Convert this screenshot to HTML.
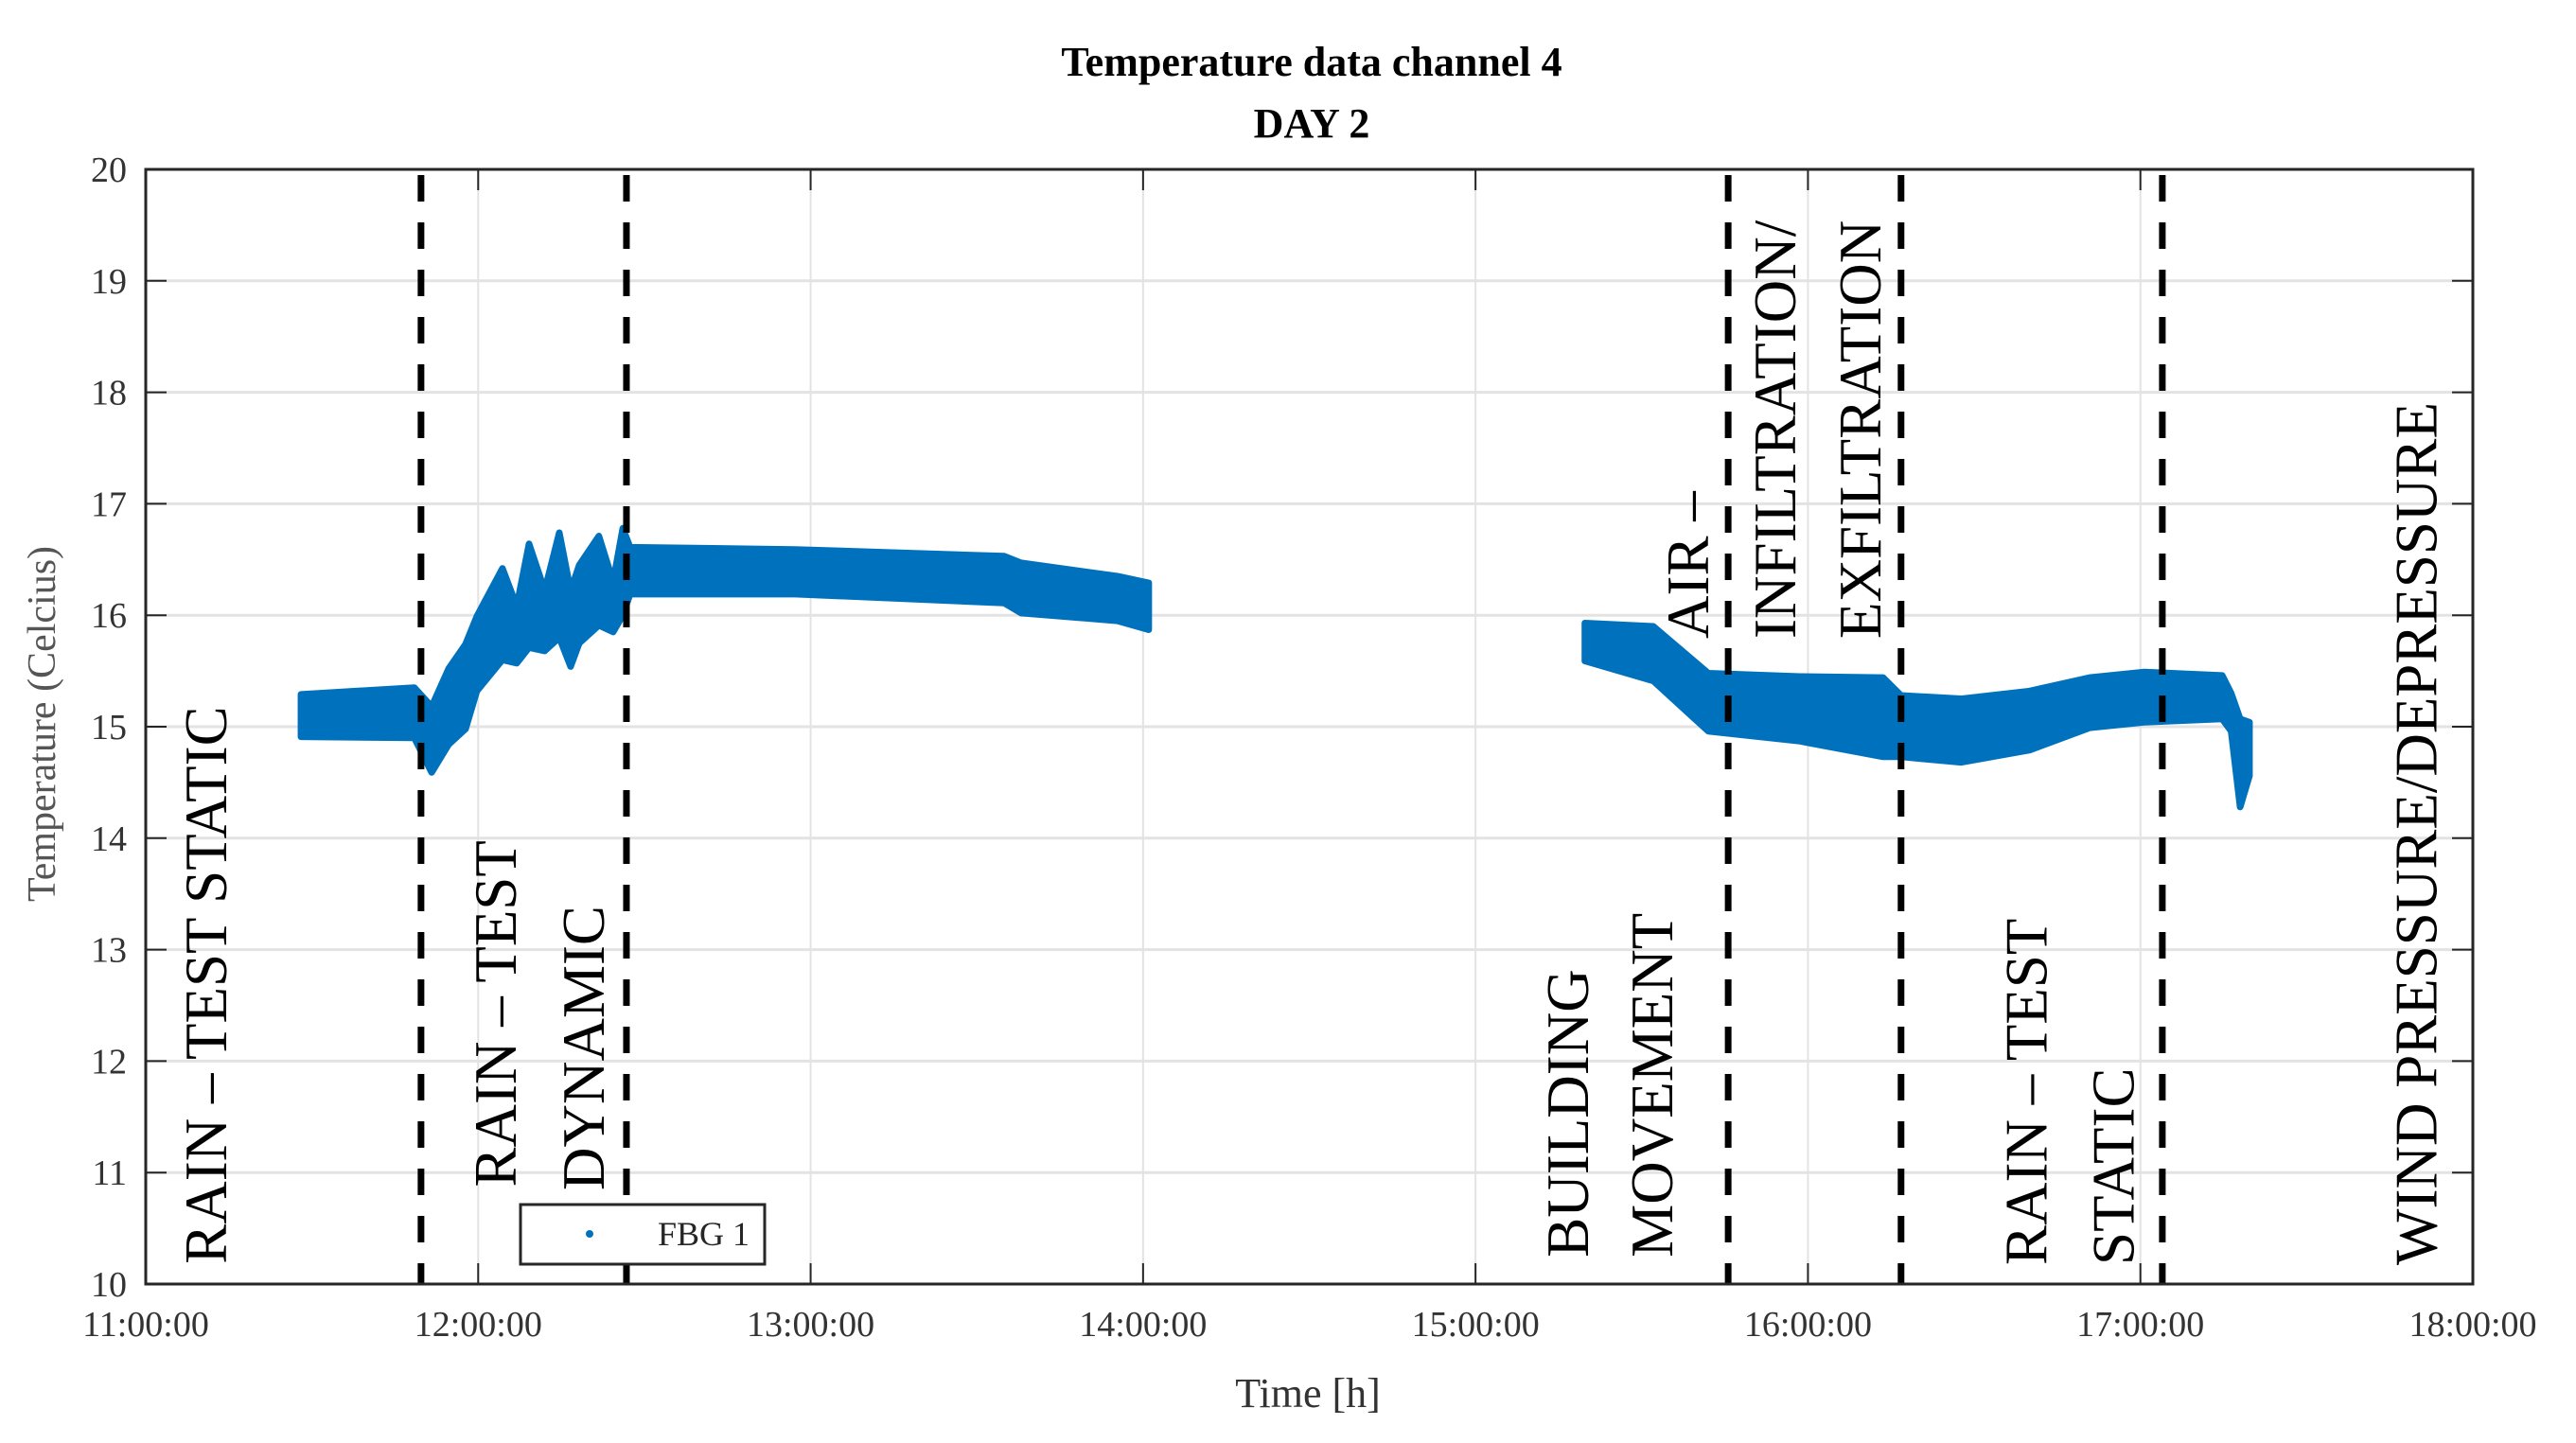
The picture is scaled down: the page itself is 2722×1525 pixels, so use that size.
<!DOCTYPE html>
<html><head><meta charset="utf-8"><style>
html,body{margin:0;padding:0;background:#fff;}
svg{display:block;font-family:"Liberation Serif",serif;}
</style></head><body>
<svg id="chart" width="2722" height="1525" viewBox="0 0 2722 1525">
<g id="grid"></g>
<g id="bands"></g>
<g id="vlines"></g>
<g id="labels"></g>
<g id="axes"></g>
<text x="1386" y="80" text-anchor="middle" font-size="44" font-weight="bold" fill="#000">Temperature data channel 4</text>
<text x="1386" y="145" text-anchor="middle" font-size="44" font-weight="bold" fill="#000">DAY 2</text>
<text x="1382" y="1487" text-anchor="middle" font-size="44" fill="#333">Time [h]</text>
<text transform="translate(58,765) rotate(-90)" text-anchor="middle" font-size="42" fill="#555">Temperature (Celcius)</text>
<g>
<rect x="550" y="1273" width="258" height="63" fill="#fff" stroke="#262626" stroke-width="3"/>
<circle cx="623" cy="1304" r="4" fill="#0072BD"/>
<text x="695" y="1316" font-size="36" fill="#262626">FBG 1</text>
</g>
</svg>
<script>
// x ticks (hours since 11:00), y ticks
const xTickHours = [0,1,2,3,4,5,6,7];
const xTickLabels = ["11:00:00","12:00:00","13:00:00","14:00:00","15:00:00","16:00:00","17:00:00","18:00:00"];
const yTicks = [10,11,12,13,14,15,16,17,18,19,20];
// segment 1 (hours since 11:00), upper & lower envelope (°C)
const seg1Hours = [0.467,0.808,0.86,0.911,0.962,0.996,1.073,1.116,1.153,1.2,1.244,1.278,1.304,1.363,1.406,1.435,1.457,1.953,2.582,2.633,2.923,3.017];
const seg1Upper = [15.29,15.35,15.18,15.52,15.74,15.99,16.42,16.08,16.64,16.22,16.74,16.22,16.45,16.71,16.3,16.78,16.61,16.59,16.53,16.47,16.35,16.29];
const seg1Lower = [14.91,14.9,14.59,14.84,14.98,15.32,15.6,15.57,15.71,15.68,15.8,15.54,15.75,15.91,15.85,16.0,16.19,16.19,16.11,16.02,15.95,15.87];
// segment 2
const seg2Hours = [4.329,4.535,4.7,4.976,5.226,5.28,5.46,5.667,5.847,6.012,6.246,6.273,6.30,6.328];
const seg2Upper = [15.93,15.9,15.48,15.45,15.44,15.28,15.25,15.32,15.44,15.49,15.46,15.3,15.07,15.04];
const seg2Lower = [15.59,15.41,14.96,14.87,14.73,14.73,14.68,14.79,14.99,15.04,15.07,14.96,14.28,14.56];
// phase divider times (hours since 11:00)
const dividerHours = [0.828,1.446,4.76,5.28,6.066];
// phase labels: text, hours of baseline, bottom temp
const labelTexts = ["RAIN \u2013 TEST STATIC","RAIN \u2013 TEST","DYNAMIC","BUILDING","MOVEMENT","AIR \u2013","INFILTRATION/","EXFILTRATION","RAIN \u2013 TEST","STATIC","WIND PRESSURE/DEPRESSURE"];
const labelHours = [0.242,1.113,1.378,4.338,4.592,4.7,4.962,5.218,5.717,5.98,6.89];
const labelBottoms = [10.18,10.87,10.84,10.24,10.24,15.79,15.79,15.79,10.17,10.17,10.17];

const NS="http://www.w3.org/2000/svg";
const L=154,R=2613,T=179,B=1357;
const xs=h=>L+(R-L)*h/7;
const ys=v=>B-(B-T)*(v-10)/10;
function mk(tag,attrs,parent){const e=document.createElementNS(NS,tag);for(const k in attrs)e.setAttribute(k,attrs[k]);parent.appendChild(e);return e;}
const grid=document.getElementById('grid'),axes=document.getElementById('axes');
xTickHours.forEach((h,i)=>{
  const g=mk('line',{x1:xs(h),x2:xs(h),y1:T,y2:B,stroke:'#e3e3e3','stroke-width':2},grid);
  
  
  const t1=mk('line',{x1:xs(h),x2:xs(h),y1:B,y2:B-22,stroke:'#262626','stroke-width':2},axes);
  
  
  const t2=mk('line',{x1:xs(h),x2:xs(h),y1:T,y2:T+22,stroke:'#262626','stroke-width':2},axes);
  
  
  const lb=mk('text',{x:xs(h),y:1412,'text-anchor':'middle','font-size':38,fill:'#333'},axes);
  lb.textContent=xTickLabels[i];
  
  
});
yTicks.forEach(v=>{
  const g=mk('line',{x1:L,x2:R,y1:ys(v),y2:ys(v),stroke:'#e3e3e3','stroke-width':3},grid);
  
  
  const t1=mk('line',{x1:L,x2:L+22,y1:ys(v),y2:ys(v),stroke:'#262626','stroke-width':2},axes);
  
  
  const t2=mk('line',{x1:R,x2:R-22,y1:ys(v),y2:ys(v),stroke:'#262626','stroke-width':2},axes);
  
  
  const lb=mk('text',{x:134,y:ys(v)+13,'text-anchor':'end','font-size':38,fill:'#333'},axes);
  lb.textContent=v;
  
  
});
const frame=mk('rect',{x:L,y:T,width:R-L,height:B-T,fill:'none',stroke:'#262626','stroke-width':3},axes);


const bands=document.getElementById('bands');
function band(hs,up,lo,name){
  let p=hs.map((h,i)=>xs(h)+','+ys(up[i]));
  for(let i=hs.length-1;i>=0;i--)p.push(xs(hs[i])+','+ys(lo[i]));
  const e=mk('polygon',{points:p.join(' '),fill:'#0072BD',stroke:'#0072BD','stroke-width':7,'stroke-linejoin':'round'},bands);
  
  
}
band(seg1Hours,seg1Upper,seg1Lower,'data-band-morning');
band(seg2Hours,seg2Upper,seg2Lower,'data-band-afternoon');
const vl=document.getElementById('vlines');
dividerHours.forEach(h=>{
  const e=mk('line',{x1:xs(h),x2:xs(h),y1:T+6,y2:B,stroke:'#000','stroke-width':7,'stroke-dasharray':'28 22'},vl);
  
  
});
const lg=document.getElementById('labels');
labelTexts.forEach((s,i)=>{
  const e=mk('text',{transform:`translate(${xs(labelHours[i])},${ys(labelBottoms[i])}) rotate(-90)`,'font-size':63,fill:'#000'},lg);
  e.textContent=s;
  
  
});
</script>
</body></html>
